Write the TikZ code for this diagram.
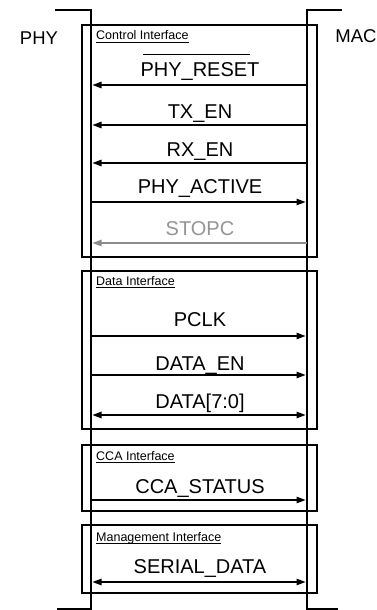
\documentclass[tikz,border=0pt]{standalone}
\usepackage{fontspec}
\setmainfont{Liberation Sans}
\usetikzlibrary{arrows.meta}
\begin{document}
\begin{tikzpicture}[x=1pt,y=-1pt,
  sig/.style={font=\fontsize{20}{23}\selectfont, anchor=base, inner sep=0pt},
  side/.style={font=\fontsize{18.5}{22}\selectfont, anchor=base, inner sep=0pt},
  grp/.style={font=\fontsize{12.5}{14}\selectfont, anchor=base west, inner sep=0pt},
  frame/.style={line width=1.1pt},
  wire/.style={line width=1.1pt},
  tip/.style={-{Triangle[length=9pt,width=6.5pt]}, shorten >=1.5pt},
  bitip/.style={{Triangle[length=9pt,width=6.5pt]}-{Triangle[length=9pt,width=6.5pt]}, shorten >=1.5pt, shorten <=1.5pt},
  uline/.style={line width=0.8pt}
]
\useasboundingbox (0,0) rectangle (377,610);

% interface boxes
\draw[frame] (82,25) rectangle (317,257);
\draw[frame] (82,271) rectangle (317,429);
\draw[frame] (82,445) rectangle (317,511);
\draw[frame] (82,525) rectangle (317,593);

% PHY / MAC lifelines
\coordinate (phyT) at (55,10);
\coordinate (phyT2) at (91,10);
\coordinate (phyB) at (91,609);
\coordinate (phyB2) at (57,609);
\coordinate (macT) at (342,10);
\coordinate (macT2) at (307,10);
\coordinate (macB) at (307,609);
\coordinate (macB2) at (338,609);
\draw[frame] (phyT) -- (phyT2) -- (phyB) -- (phyB2);
\draw[frame] (macT) -- (macT2) -- (macB) -- (macB2);

\node[side] (phy) at (39,45) {PHY};
\node[side] (mac) at (356,43) {MAC};

% group labels
\node[grp] (g1) at (96,40) {Control Interface};
\node[grp] (g2) at (96,285) {Data Interface};
\node[grp] (g3) at (96,460) {CCA Interface};
\node[grp] (g4) at (96,541) {Management Interface};
\foreach \g in {g1,g2,g3,g4}
  \draw[uline] ([yshift=-2.8pt]\g.base west) -- ([yshift=-2.8pt]\g.base east);

% signal labels
\node[sig] (s1) at (200,77) {PHY\_RESET};
\draw[uline,line width=1pt] ([xshift=3pt,yshift=8pt]s1.north west) -- ([xshift=-10pt,yshift=8pt]s1.north east);
\node[sig] (s2) at (200,118) {TX\_EN};
\node[sig] (s3) at (200,156) {RX\_EN};
\node[sig] (s4) at (200,193) {PHY\_ACTIVE};
\node[sig,text=black!42] (s5) at (200,235) {STOPC};
\node[sig] (s6) at (200,326) {PCLK};
\node[sig] (s7) at (200,370) {DATA\_EN};
\node[sig] (s8) at (200,408) {DATA[7:0]};
\node[sig] (s9) at (200,493) {CCA\_STATUS};
\node[sig] (s10) at (200,573) {SERIAL\_DATA};

% arrow end points
\foreach \n/\y in {1/85,2/125,3/163,4/202,5/243,6/336,7/375,8/415,9/500,10/582}{
  \coordinate (L\n) at (91,\y);
  \coordinate (R\n) at (307,\y);
}

\draw[wire,tip] (R1) -- (L1);
\draw[wire,tip] (R2) -- (L2);
\draw[wire,tip] (R3) -- (L3);
\draw[wire,tip] (L4) -- (R4);
\draw[wire,tip,draw=black!45,fill=black!45] (R5) -- (L5);
\draw[wire,tip] (L6) -- (R6);
\draw[wire,tip] (L7) -- (R7);
\draw[wire,bitip] (L8) -- (R8);
\draw[wire,tip] (L9) -- (R9);
\draw[wire,bitip] (L10) -- (R10);
\end{tikzpicture}
\end{document}
